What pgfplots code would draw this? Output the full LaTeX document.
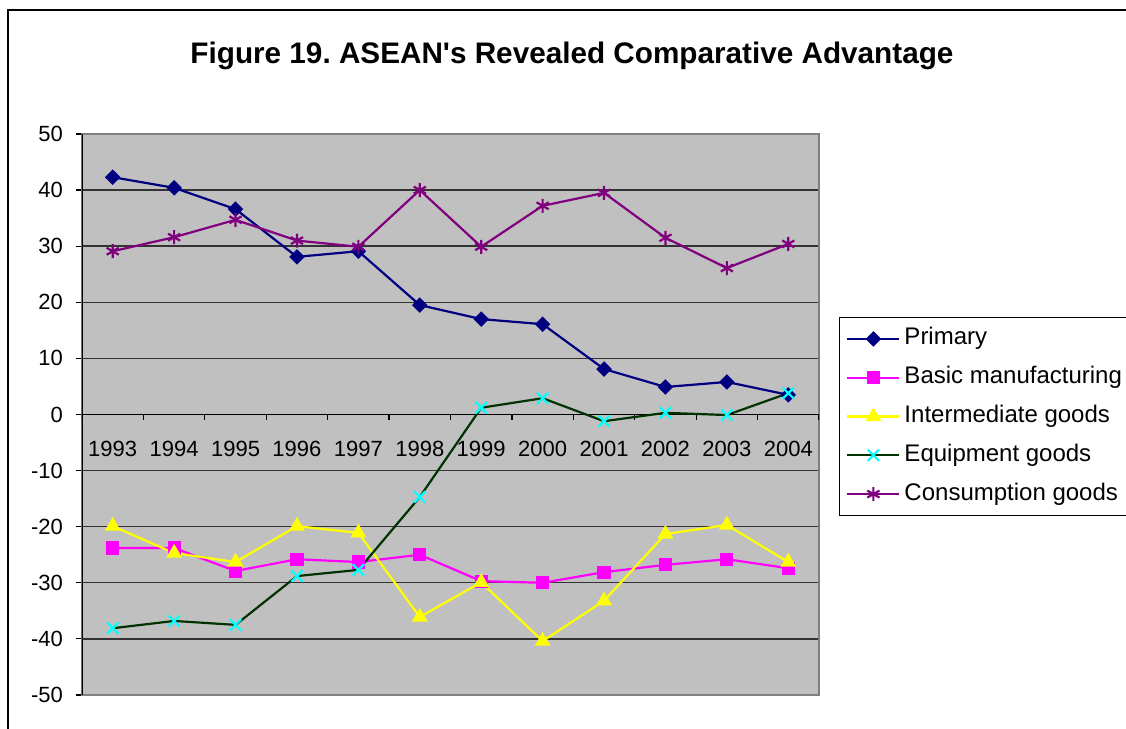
\documentclass[border=0pt]{standalone}
\usepackage{fontspec}
\setmainfont{Liberation Sans}
\usepackage{pgfplots}
\pgfplotsset{compat=1.18}
\definecolor{plotbg}{RGB}{192,192,192}
\definecolor{xlnavy}{RGB}{0,0,128}
\definecolor{xlmag}{RGB}{255,0,255}
\definecolor{xlyel}{RGB}{255,255,0}
\definecolor{xlgreen}{RGB}{0,51,0}
\definecolor{xlcyan}{RGB}{0,255,255}
\definecolor{xlpurple}{RGB}{128,0,128}
\newcommand\lblfont{\fontsize{11}{13}\selectfont}
\newcommand\legfont{\fontsize{12}{14}\selectfont}
\frenchspacing
\begin{document}
\begin{tikzpicture}
\useasboundingbox (0,0) rectangle (563pt,364.5pt);
\draw[black, line width=1pt] (4pt,-5pt) -- (4pt,359.5pt) -- (570pt,359.5pt);
\node[font=\bfseries\fontsize{14.85}{17}\selectfont] at (286pt,336.5pt)
  {Figure 19. ASEAN\textquotesingle s Revealed Comparative Advantage};
\begin{axis}[
    at={(41pt,17pt)}, anchor=south west,
    scale only axis, width=368.5pt, height=280.5pt,
    xmin=0.5, xmax=12.5, ymin=-50, ymax=50,
    xtick=\empty,
    ytick={-50,-40,...,50},
    yticklabels={-50,-40,-30,-20,-10,0,10,20,30,40,50},
    yticklabel style={font=\lblfont, xshift=-3pt},
    ytick pos=left, tick align=outside, major tick length=3pt,
    ytick style={black, line width=0.6pt},
    ymajorgrids, major grid style={black!80, line width=0.7pt},
    axis line style={draw=gray, line width=0.8pt},
    axis background/.style={fill=plotbg},
    every axis plot/.append style={line width=1.1pt},
    legend style={at={(axis description cs:1.027,0.674)}, anchor=north west,
      draw=black, fill=white, font=\legfont, row sep=0.2pt,
      inner xsep=3.5pt, inner ysep=1.2pt,
      nodes={text height=9pt, text depth=3pt, inner ysep=3.6pt}},
    legend cell align=left,
    legend image code/.code={\draw[mark repeat=2,mark phase=2]
      plot coordinates {(0pt,0pt) (13pt,0pt) (26pt,0pt)};},
  ]
  \draw[black, line width=0.8pt] (rel axis cs:0,0) -- (rel axis cs:0,1);
  \draw[black, line width=0.8pt] (axis cs:0.5,0) -- (axis cs:12.5,0);
  \foreach \t in {0.5,1.5,...,12.5} {
    \edef\temp{\noexpand\draw[black, line width=0.6pt] (axis cs:\t,0) -- ++(0pt,-3pt);}\temp
  }
  \foreach \i/\yr in {1/1993,2/1994,3/1995,4/1996,5/1997,6/1998,7/1999,8/2000,9/2001,10/2002,11/2003,12/2004} {
    \edef\temp{\noexpand\node[font=\noexpand\lblfont] at (axis cs:\i,0) [yshift=-17pt] {\yr};}\temp
  }
  % Primary
  \addplot[color=xlnavy, mark=square*, mark size=2.2pt, mark options={rotate=45}]
    coordinates {(1,42.3) (2,40.4) (3,36.6) (4,28.1) (5,29.1) (6,19.5) (7,17.0) (8,16.1) (9,8.1) (10,4.9) (11,5.8) (12,3.5)};
  \addlegendentry{Primary}
  % Basic manufacturing
  \addplot[color=xlmag, mark=square*, mark size=2.75pt]
    coordinates {(1,-23.8) (2,-23.8) (3,-27.9) (4,-25.8) (5,-26.3) (6,-25.0) (7,-29.7) (8,-30.0) (9,-28.1) (10,-26.8) (11,-25.8) (12,-27.4)};
  \addlegendentry{Basic manufacturing}
  % Intermediate goods
  \addplot[color=xlyel, mark=triangle*, mark size=3.5pt]
    coordinates {(1,-19.9) (2,-24.7) (3,-26.3) (4,-19.9) (5,-21.1) (6,-36.1) (7,-29.9) (8,-40.4) (9,-33.2) (10,-21.3) (11,-19.7) (12,-26.3)};
  \addlegendentry{Intermediate goods}
  % Equipment goods
  \addplot[color=xlgreen, mark=x, mark size=4pt, mark options={draw=xlcyan}]
    coordinates {(1,-38.1) (2,-36.8) (3,-37.5) (4,-28.8) (5,-27.7) (6,-14.7) (7,1.2) (8,2.9) (9,-1.2) (10,0.3) (11,-0.1) (12,3.8)};
  \addlegendentry{Equipment goods}
  % Consumption goods
  \addplot[color=xlpurple, mark=asterisk, mark size=3.5pt]
    coordinates {(1,29.1) (2,31.6) (3,34.7) (4,31.0) (5,29.9) (6,40.0) (7,29.9) (8,37.2) (9,39.5) (10,31.5) (11,26.1) (12,30.4)};
  \addlegendentry{Consumption goods}
\end{axis}
\end{tikzpicture}
\end{document}
